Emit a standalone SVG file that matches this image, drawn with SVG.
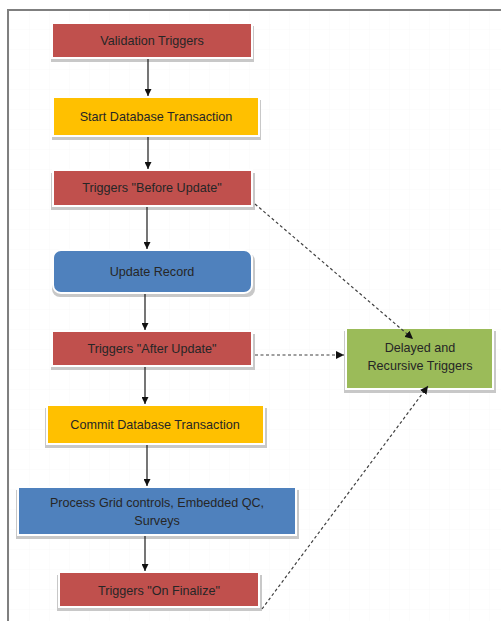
<svg xmlns="http://www.w3.org/2000/svg" width="501" height="621" viewBox="0 0 501 621">
<defs>
<style>
.box{stroke:#ffffff;stroke-width:2}
.shadow{fill:#c8c8c8}
.red{fill:#c0504d}
.yellow{fill:#ffc000}
.blue{fill:#4f81bd}
.green{fill:#9bbb59}
text{font-family:"Liberation Sans",Arial,sans-serif;font-size:12.6px;fill:#262626;text-anchor:middle}
.flow{stroke:#1a1a1a;stroke-width:1.2;fill:none}
.dash{stroke:#404040;stroke-width:1.2;stroke-dasharray:3,2.5;fill:none}
</style>
<marker id="ah" viewBox="0 0 10 10" refX="10" refY="5" markerWidth="7" markerHeight="7" orient="auto" markerUnits="userSpaceOnUse">
<path d="M0,0 L10,5 L0,10 z" fill="#111111"/>
</marker>
<marker id="ahd" viewBox="0 0 10 10" refX="10" refY="5" markerWidth="8" markerHeight="8" orient="auto" markerUnits="userSpaceOnUse">
<path d="M0,0 L10,5 L0,10 z" fill="#111111"/>
</marker>
<pattern id="grid" width="20" height="20" patternUnits="userSpaceOnUse" x="10" y="10">
<path d="M20,0 V20 M0,20 H20" stroke="#f8f8f8" stroke-width="1" fill="none"/>
</pattern>
</defs>
<rect x="0" y="0" width="501" height="621" fill="#ffffff"/>
<rect x="9" y="11" width="492" height="610" fill="url(#grid)"/>
<path d="M8,621 V10 H501" stroke="#7f7f7f" stroke-width="2" fill="none"/>

<g id="validation-triggers">
<rect class="shadow" x="51" y="26" width="203" height="36"/>
<rect class="box red" x="52" y="23" width="200" height="35"/>
<text x="152" y="45">Validation Triggers</text>
</g>
<g id="start-transaction">
<rect class="shadow" x="52" y="100" width="209" height="40"/>
<rect class="box yellow" x="53" y="97" width="206" height="39"/>
<text x="156" y="121">Start Database Transaction</text>
</g>
<g id="before-update">
<rect class="shadow" x="51" y="173" width="204" height="37"/>
<rect class="box red" x="53" y="170" width="199" height="36"/>
<text x="152" y="192">Triggers "Before Update"</text>
</g>
<g id="update-record">
<rect class="shadow" x="52" y="253" width="203" height="44" rx="8"/>
<rect class="box blue" x="53" y="250" width="199" height="43" rx="8"/>
<text x="152" y="276">Update Record</text>
</g>
<g id="after-update">
<rect class="shadow" x="51" y="334" width="204" height="36"/>
<rect class="box red" x="52" y="331" width="200" height="35"/>
<text x="152" y="353">Triggers "After Update"</text>
</g>
<g id="commit-transaction">
<rect class="shadow" x="45" y="408" width="222" height="40"/>
<rect class="box yellow" x="47" y="405" width="217" height="39"/>
<text x="155" y="429">Commit Database Transaction</text>
</g>
<g id="process-grid">
<rect class="shadow" x="16" y="490" width="283" height="49"/>
<rect class="box blue" x="18" y="487" width="278" height="48"/>
<text x="157" y="507">Process Grid controls, Embedded QC,</text>
<text x="157" y="525">Surveys</text>
</g>
<g id="on-finalize">
<rect class="shadow" x="57" y="575" width="205" height="36"/>
<rect class="box red" x="59" y="572" width="200" height="35"/>
<text x="159" y="595">Triggers "On Finalize"</text>
</g>
<g id="delayed-recursive">
<rect class="shadow" x="344" y="331" width="152" height="62"/>
<rect class="box green" x="346" y="328" width="147" height="61"/>
<text x="420" y="352">Delayed and</text>
<text x="420" y="370">Recursive Triggers</text>
</g>

<g id="connectors">
<line class="flow" x1="148" y1="59" x2="148" y2="96" marker-end="url(#ah)"/>
<line class="flow" x1="148" y1="137" x2="148" y2="169" marker-end="url(#ah)"/>
<line class="flow" x1="147" y1="207" x2="147" y2="249" marker-end="url(#ah)"/>
<line class="flow" x1="145" y1="294" x2="145" y2="330" marker-end="url(#ah)"/>
<line class="flow" x1="145" y1="367" x2="145" y2="404" marker-end="url(#ah)"/>
<line class="flow" x1="147" y1="445" x2="147" y2="486" marker-end="url(#ah)"/>
<line class="flow" x1="145" y1="536" x2="145" y2="571" marker-end="url(#ah)"/>
<line class="dash" x1="255" y1="204" x2="413" y2="339" marker-end="url(#ahd)"/>
<line class="dash" x1="255" y1="355" x2="344" y2="355" marker-end="url(#ahd)"/>
<line class="dash" x1="262" y1="609" x2="428" y2="386" marker-end="url(#ahd)"/>
</g>
</svg>
